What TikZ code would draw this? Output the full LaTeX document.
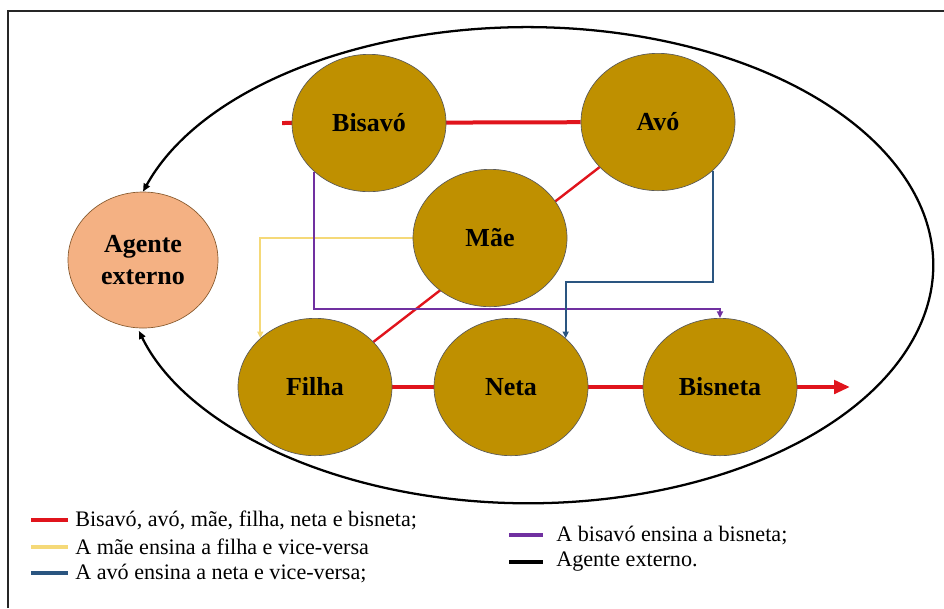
\documentclass[tikz,border=0pt]{standalone}
\usepackage{fontspec}
\setmainfont{Liberation Serif}
\usetikzlibrary{shapes.geometric,arrows.meta,backgrounds}

\definecolor{Ouro}{HTML}{BF9000}
\definecolor{Salmao}{HTML}{F4B183}
\definecolor{Vermelho}{HTML}{E0141C}
\definecolor{Amarelo}{HTML}{F5D978}
\definecolor{Azul}{HTML}{2A5580}
\definecolor{Roxo}{HTML}{7030A0}

\begin{document}
\begin{tikzpicture}[x=0.75pt, y=-0.75pt,
  membro/.style={ellipse, draw=black!65, line width=0.5pt, fill=Ouro, inner sep=0pt,
    minimum width=115.5pt, minimum height=103pt, font=\bfseries\fontsize{19.5}{24}\selectfont},
  agente/.style={membro, fill=Salmao, draw=brown!70!black, align=center,
    minimum width=112.5pt, minimum height=102pt},
  ponta/.style={-{Triangle[length=5pt,width=4.5pt]}},
  legenda/.style={anchor=west, inner sep=0pt, font=\fontsize{16.6}{19}\selectfont}]

 \useasboundingbox (0,0) rectangle (944,608);

 % Moldura
 \draw[line width=1.2pt, color=black!85] (8,608) -- (8,11) -- (944,11);

 %%%%%%%%%% Membros da familia %%%%%%%%%%
 \node[membro] (bisavo) at (369,123) {Bisavó};
 \node[membro] (avo) at (658,122) {Avó};
 \node[membro] (mae) at (490,238) {Mãe};
 \node[membro] (filha) at (315,387) {Filha};
 \node[membro] (neta) at (511,387) {Neta};
 \node[membro] (bisneta) at (720,387) {Bisneta};
 \node[agente] (agente) at (143,260) {Agente\\externo};

 %%%%%%%%%% Pontos para as linhas %%%%%%%%%%
 \coordinate (inicio) at (282,123);
 \coordinate (fim) at (850,387);
 \coordinate (roxo) at (500,309);
 \coordinate (azul) at (640,282);

 \begin{scope}[on background layer]
  % Agente externo
  \draw[line width=1.7pt, {Triangle[length=6pt,width=5pt]}-{Triangle[length=6pt,width=5pt]}]
    (agente.north) arc[start angle=-162, end angle=164, x radius=405, y radius=238];

  % Bisavo, avo, mae, filha, neta e bisneta
  \draw[color=Vermelho, line width=3pt] (inicio) -- (avo);
  \draw[color=Vermelho, line width=1.8pt] (avo) -- (filha);
  \draw[color=Vermelho, line width=3pt] (filha) -- (neta) -- (bisneta);
  \draw[color=Vermelho, line width=3pt, -{Triangle[length=12pt,width=10pt]}] (bisneta.east) -- (fim);

  % Quem ensina quem
  \draw[color=Amarelo, line width=1.3pt, ponta] (mae.west) -| (filha.north west);
  \draw[color=Roxo, line width=1.3pt, ponta] (bisavo.south west) |- (roxo) -| (bisneta.north);
  \draw[color=Azul, line width=1.3pt, ponta] (avo.south east) |- (azul) -| (neta.north east);
 \end{scope}

 %%%%%%%%%% Legenda %%%%%%%%%%
 \draw[color=Vermelho, line width=3pt] (31,520) -- (68,520);
 \node[legenda] (legvermelho) at (75,520) {Bisavó, avó, mãe, filha, neta e bisneta;};
 \draw[color=Amarelo, line width=3pt] (31,547) -- (68,547);
 \node[legenda] (legamarelo) at (75,547) {A mãe ensina a filha e vice-versa};
 \draw[color=Azul, line width=3pt] (31,573) -- (68,573);
 \node[legenda] (legazul) at (75,573) {A avó ensina a neta e vice-versa;};
 \draw[color=Roxo, line width=3pt] (509,535) -- (543,535);
 \node[legenda] (legroxo) at (556,535) {A bisavó ensina a bisneta;};
 \draw[color=black, line width=3pt] (509,562) -- (543,562);
 \node[legenda] (legpreto) at (556,562) {Agente externo.};

\end{tikzpicture}
\end{document}
